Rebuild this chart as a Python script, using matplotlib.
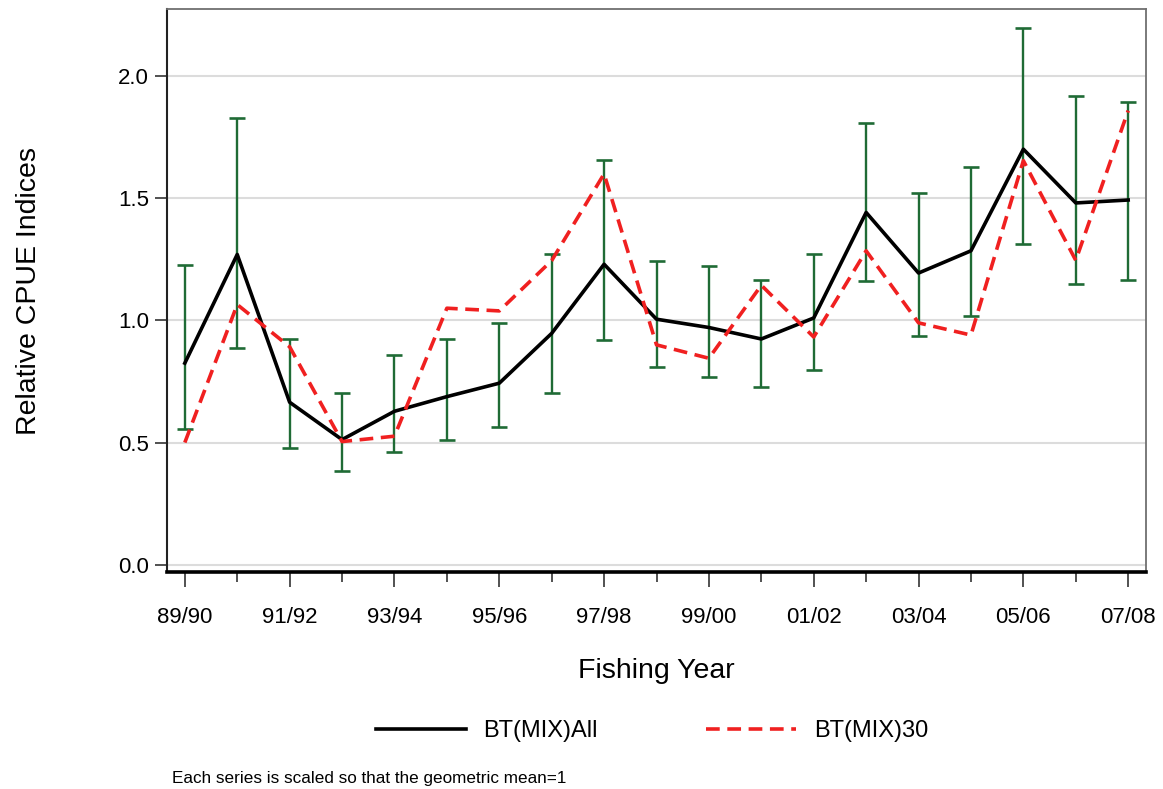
import matplotlib
matplotlib.use("Agg")
import matplotlib.pyplot as plt
from matplotlib.lines import Line2D
from matplotlib.ticker import FixedLocator, NullFormatter

plt.rcParams['font.family'] = ['Liberation Sans', 'DejaVu Sans']

years = ["89/90", "90/91", "91/92", "92/93", "93/94", "94/95", "95/96", "96/97",
         "97/98", "98/99", "99/00", "00/01", "01/02", "02/03", "03/04", "04/05",
         "05/06", "06/07", "07/08"]
bt_all = [0.825, 1.27, 0.665, 0.512, 0.628, 0.688, 0.743, 0.947, 1.23, 1.005,
          0.971, 0.924, 1.01, 1.442, 1.194, 1.285, 1.701, 1.481, 1.493]
bt_30 = [0.50, 1.065, 0.892, 0.504, 0.526, 1.05, 1.039, 1.245, 1.60, 0.90,
         0.845, 1.144, 0.932, 1.285, 0.99, 0.94, 1.654, 1.246, 1.859]
ci_upper = [1.225, 1.827, 0.924, 0.704, 0.858, 0.924, 0.99, 1.273, 1.657, 1.243,
            1.222, 1.167, 1.273, 1.807, 1.521, 1.628, 2.196, 1.917, 1.895]
ci_lower = [0.555, 0.889, 0.476, 0.382, 0.46, 0.51, 0.562, 0.704, 0.919, 0.809,
            0.77, 0.727, 0.798, 1.163, 0.935, 1.018, 1.313, 1.148, 1.167]
y_ticks = [0.0, 0.5, 1.0, 1.5, 2.0]
y_tick_labels = ["0.0", "0.5", "1.0", "1.5", "2.0"]

W, H = 1163, 789
fig = plt.figure(figsize=(W / 100, H / 100), dpi=100)
ax = fig.add_axes([167 / W, 1 - 572 / H, (1146 - 167) / W, (572 - 9) / H])

x = list(range(len(years)))
yerr = [[b - l for b, l in zip(bt_all, ci_lower)],
        [u - b for b, u in zip(bt_all, ci_upper)]]

ax.errorbar(x, bt_all, yerr=yerr, fmt='none', ecolor='#1f6b35', elinewidth=1.7,
            capsize=5.5, capthick=1.9, zorder=2)
ax.plot(x, bt_all, color='black', lw=2.6, zorder=3)
ax.plot(x, bt_30, color='#f02020', lw=2.6, dashes=(3.8, 2.1), zorder=4)

ax.set_xlim(-0.34, 18.34)
ax.set_ylim(-0.03, 2.275)

ax.set_yticks(y_ticks)
ax.set_yticklabels(y_tick_labels)
ax.yaxis.grid(True, color='#dcdcdc', lw=1.5, zorder=0)
ax.set_axisbelow(True)

major = x[::2]
minor = x[1::2]
ax.set_xticks(major)
ax.set_xticklabels([years[i] for i in major])
ax.xaxis.set_minor_locator(FixedLocator(minor))
ax.xaxis.set_minor_formatter(NullFormatter())

ax.tick_params(axis='x', which='major', length=11, width=1.2, direction='out',
               labelsize=16, pad=14, color='#333333')
ax.tick_params(axis='x', which='minor', length=7, width=1.2, direction='out',
               color='#333333')
ax.tick_params(axis='y', which='major', length=9, width=1.2, direction='out',
               labelsize=16, pad=4, color='#333333')

for s in ['top', 'right']:
    ax.spines[s].set_color('#707070')
    ax.spines[s].set_linewidth(1.3)
ax.spines['left'].set_color('#222222')
ax.spines['left'].set_linewidth(1.5)
ax.spines['bottom'].set_color('black')
ax.spines['bottom'].set_linewidth(2.6)

ax.set_xlabel("Fishing Year", fontsize=20.5, labelpad=22)
ax.set_ylabel("Relative CPUE Indices", fontsize=20.5, labelpad=55)

handles = [Line2D([], [], color='black', lw=2.6),
           Line2D([], [], color='#f02020', lw=2.6, dashes=(3.8, 2.1))]
fig.legend(handles, ["BT(MIX)All", "BT(MIX)30"], loc='center',
           bbox_to_anchor=(652 / W, 1 - 731 / H), ncol=2, frameon=False,
           fontsize=17, handlelength=3.8, handletextpad=0.75, columnspacing=4.6)

fig.text(172 / W, 1 - 779 / H, "Each series is scaled so that the geometric mean=1",
         fontsize=12.3, ha='left', va='center')

fig.savefig("out.png", dpi=100)
